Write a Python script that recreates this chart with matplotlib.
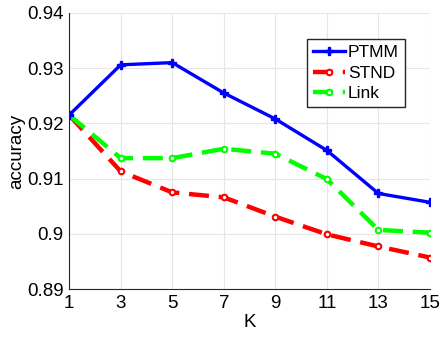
import matplotlib
matplotlib.use('Agg')
import matplotlib.pyplot as plt

plt.rcParams['font.family'] = ['Liberation Sans', 'DejaVu Sans']

k_values = [1, 3, 5, 7, 9, 11, 13, 15]
ptmm = [0.9215, 0.9306, 0.9310, 0.9255, 0.9208, 0.9151, 0.9073, 0.9057]
stnd = [0.9215, 0.9113, 0.9075, 0.9066, 0.9031, 0.8999, 0.8977, 0.8957]
link = [0.9215, 0.9137, 0.9137, 0.9154, 0.9145, 0.9099, 0.9007, 0.9002]

fig = plt.figure(figsize=(4.46, 3.4), dpi=100)
ax = fig.add_axes([0.155, 0.15, 0.809, 0.812])

ax.plot(k_values, stnd, color='#ff0000', linewidth=3.2, dashes=(4.5, 2.2),
        marker='o', markersize=4, markerfacecolor='white', markeredgewidth=1.5, label='STND')
ax.plot(k_values, link, color='#00ff00', linewidth=3.2, dashes=(4.5, 2.2),
        marker='o', markersize=4, markerfacecolor='white', markeredgewidth=1.5, label='Link')
ax.plot(k_values, ptmm, color='#0000ff', linewidth=2.4,
        marker='P', markersize=6, label='PTMM')

ax.set_xlim(1, 15)
ax.set_ylim(0.89, 0.94)
ax.set_xticks(k_values)
ax.set_yticks([0.89, 0.9, 0.91, 0.92, 0.93, 0.94])
ax.set_yticklabels(['0.89', '0.9', '0.91', '0.92', '0.93', '0.94'])
ax.tick_params(labelsize=13.5, length=0, pad=4)
ax.set_xlabel('K', fontsize=13.5, labelpad=2)
ax.set_ylabel('accuracy', fontsize=13.5, labelpad=1)
ax.grid(True, color='#e6e6e6', linewidth=0.8)
ax.set_axisbelow(True)
for side in ['top', 'right']:
    ax.spines[side].set_visible(False)
for side in ['left', 'bottom']:
    ax.spines[side].set_color('#262626')
    ax.spines[side].set_linewidth(0.8)

handles, labels = ax.get_legend_handles_labels()
order = [2, 0, 1]
ax.legend([handles[i] for i in order], [labels[i] for i in order],
          loc='upper left', bbox_to_anchor=(0.66, 0.905), fontsize=12.5,
          frameon=True, fancybox=False, edgecolor='#262626', framealpha=1,
          handlelength=1.8, handletextpad=0.2, borderpad=0.35, labelspacing=0.3,
          borderaxespad=0)

fig.savefig('out.png', dpi=100)
